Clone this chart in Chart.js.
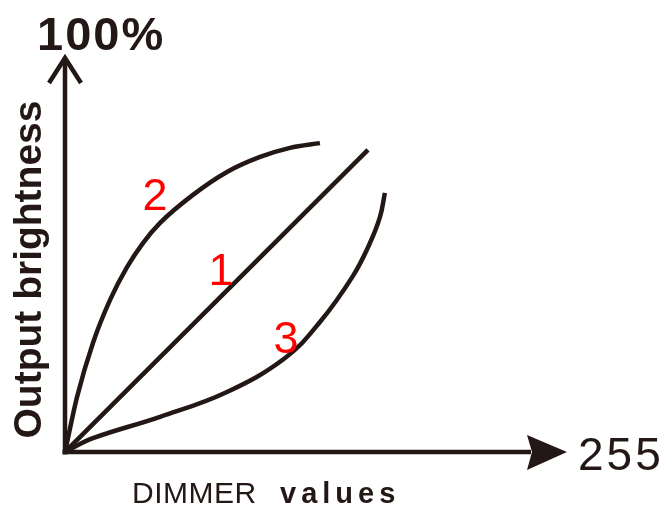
<!DOCTYPE html>
<html><head><meta charset="utf-8">
<script src="https://cdn.jsdelivr.net/npm/chart.js@4/dist/chart.umd.min.js"></script>
<style>html,body{margin:0;padding:0;background:#fff;}canvas{display:block;}</style>
</head><body>
<canvas id="c" width="667" height="508"></canvas>
<script>
// ---- data (x: DIMMER value 0..255, y: output brightness %) ----
const curveNames = ['1', '2', '3'];
const curve1X = [0, 153.9];
const curve1Y = [0, 76.5];
const curve2X = [0, 6.1, 14.2, 22.9, 31.5, 39.6, 48.3, 65.0, 82.3, 99.1, 114.3, 129.5];
const curve2Y = [0, 13.9, 27.6, 38.5, 46.8, 52.9, 58.0, 65.1, 70.9, 74.7, 77.0, 78.2];
const curve3X = [0, 14.2, 48.3, 82.3, 111.8, 129.5, 146.3, 154.9, 160.0, 162.5];
const curve3Y = [0, 3.5, 8.9, 15.2, 23.8, 32.9, 44.6, 52.9, 59.5, 65.6];
const xTickLabels = ['255'];
const yTickLabels = ['100%'];
const xTitleParts = ['DIMMER', 'values'];
const yTitle = 'Output brightness';
// label anchors in data space (where the red numbers sit)
const labelX = [79.2, 45.7, 112.3];
const labelY = [45.8, 64.8, 28.6];

const INK = '#231815';
const RED = '#ff0000';
const pts = (xs, ys) => xs.map((x, i) => ({x: x, y: ys[i]}));

const ds = (xs, ys, name, mode) => ({
  label: name, data: pts(xs, ys), showLine: true, borderColor: INK,
  borderWidth: 4.5, pointRadius: 0, fill: false,
  cubicInterpolationMode: mode, tension: 0.4
});

const decor = {
  id: 'decor',
  beforeDatasetsDraw(chart) {
    const c = chart.ctx, xs = chart.scales.x, ys = chart.scales.y;
    const ox = xs.getPixelForValue(0), oy = ys.getPixelForValue(0);
    const xEnd = xs.getPixelForValue(255), yEnd = ys.getPixelForValue(100);
    c.save();
    c.strokeStyle = INK; c.fillStyle = INK; c.lineWidth = 4.5; c.lineCap = 'butt';
    // y axis
    c.beginPath(); c.moveTo(ox, oy + 2.5); c.lineTo(ox, yEnd + 2); c.stroke();
    // y arrow (open chevron)
    c.lineJoin = 'miter';
    c.beginPath(); c.moveTo(ox - 16, yEnd + 26); c.lineTo(ox, yEnd + 1); c.lineTo(ox + 16, yEnd + 26); c.stroke();
    // x axis
    c.beginPath(); c.moveTo(ox - 2.5, oy); c.lineTo(xEnd - 36, oy); c.stroke();
    // x arrow (filled)
    c.beginPath(); c.moveTo(xEnd, oy); c.lineTo(xEnd - 40, oy - 17); c.lineTo(xEnd - 35, oy);
    c.lineTo(xEnd - 40, oy + 18); c.closePath(); c.fill();
    c.restore();
  },
  afterDatasetsDraw(chart) {
    const c = chart.ctx, xs = chart.scales.x, ys = chart.scales.y;
    const ox = xs.getPixelForValue(0), oy = ys.getPixelForValue(0);
    const xEnd = xs.getPixelForValue(255), yEnd = ys.getPixelForValue(100);
    c.save();
    c.fillStyle = INK;
    c.textBaseline = 'alphabetic'; c.textAlign = 'left';
    // 100%
    c.font = 'bold 47px Arial, "Liberation Sans", sans-serif';
    c.letterSpacing = '2px';
    c.fillText(yTickLabels[0], ox - 28, yEnd - 7);
    // 255
    c.font = '46px Arial, "Liberation Sans", sans-serif';
    c.letterSpacing = '3px';
    c.fillText(xTickLabels[0], xEnd + 11, oy + 18);
    // DIMMER values
    c.font = '30px Arial, "Liberation Sans", sans-serif';
    c.letterSpacing = '0.5px';
    c.fillText(xTitleParts[0], ox + 67, oy + 51);
    c.font = 'bold 29px Arial, "Liberation Sans", sans-serif';
    c.letterSpacing = '5px';
    c.fillText(xTitleParts[1], ox + 215, oy + 51);
    // Output brightness
    c.font = 'bold 39px Arial, "Liberation Sans", sans-serif';
    c.letterSpacing = '0px';
    c.translate(41, (oy + yEnd) / 2 + 15);
    c.rotate(-Math.PI / 2);
    c.textAlign = 'center';
    c.fillText(yTitle, 0, 0);
    c.restore();
    // red curve numbers
    c.save();
    c.fillStyle = RED;
    c.font = '45px Arial, "Liberation Sans", sans-serif';
    c.textAlign = 'center'; c.textBaseline = 'middle';
    curveNames.forEach((n, i) => {
      c.fillText(n, xs.getPixelForValue(labelX[i]), ys.getPixelForValue(labelY[i]) + 2);
    });
    c.restore();
  }
};

new Chart(document.getElementById('c'), {
  type: 'scatter',
  data: { datasets: [
    ds(curve1X, curve1Y, curveNames[0], 'monotone'),
    ds(curve2X, curve2Y, curveNames[1], 'monotone'),
    ds(curve3X, curve3Y, curveNames[2], 'default')
  ]},
  options: {
    responsive: false, animation: false, devicePixelRatio: 1,
    layout: { padding: { left: 65, right: 100, top: 57, bottom: 56 } },
    scales: {
      x: { type: 'linear', min: 0, max: 255, display: false },
      y: { type: 'linear', min: 0, max: 100, display: false }
    },
    plugins: { legend: { display: false }, tooltip: { enabled: false } }
  },
  plugins: [decor]
});
</script>
</body></html>
